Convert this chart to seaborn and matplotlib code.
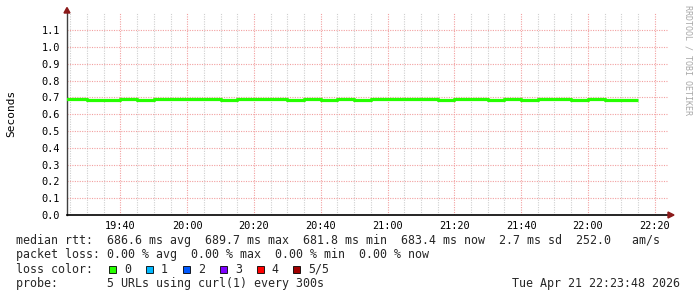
import matplotlib
matplotlib.use("Agg")
import numpy as np
import pandas as pd
import seaborn as sns
import matplotlib.pyplot as plt
import matplotlib.dates as mdates
from matplotlib.patches import Rectangle, Polygon

# ---------------- data ----------------
day = "2026-04-21"
bin_times = ["19:20", "19:25", "19:30", "19:35", "19:40", "19:45", "19:50", "19:55",
             "20:00", "20:05", "20:10", "20:15", "20:20", "20:25", "20:30", "20:35",
             "20:40", "20:45", "20:50", "20:55", "21:00", "21:05", "21:10", "21:15",
             "21:20", "21:25", "21:30", "21:35", "21:40", "21:45", "21:50", "21:55",
             "22:00", "22:05", "22:10", "22:15"]
median_rtt = [0.6895, 0.6897, 0.6830, 0.6825, 0.6890, 0.6835, 0.6893, 0.6890,
              0.6888, 0.6891, 0.6832, 0.6889, 0.6892, 0.6887, 0.6828, 0.6890,
              0.6835, 0.6889, 0.6830, 0.6893, 0.6895, 0.6890, 0.6888, 0.6827,
              0.6891, 0.6889, 0.6833, 0.6890, 0.6829, 0.6892, 0.6888, 0.6831,
              0.6890, 0.6818, 0.6834, 0.6834]
y_ticks = [0.0, 0.1, 0.2, 0.3, 0.4, 0.5, 0.6, 0.7, 0.8, 0.9, 1.0, 1.1]
x_start, x_end = "19:24:00", "22:24:00"

legend_rtt_title = "median rtt:"
legend_rtt_items = ["686.6 ms avg", "689.7 ms max", "681.8 ms min", "683.4 ms now",
                    "2.7 ms sd", "252.0"]
legend_rtt_unit = "am/s"
legend_loss_title = "packet loss:"
legend_loss_items = ["0.00 % avg", "0.00 % max", "0.00 % min", "0.00 % now"]
loss_color_title = "loss color:"
loss_labels = ["0", "1", "2", "3", "4", "5/5"]
loss_colors = ["#26ff00", "#00b8ff", "#0059ff", "#7e00ff", "#ff0000", "#a00000"]
probe_title = "probe:"
probe_text = "5 URLs using curl(1) every 300s"
stamp_text = "Tue Apr 21 22:23:48 2026"
y_label = "Seconds"
watermark = "RRDTOOL / TOBI OETIKER"

df = pd.DataFrame({
    "time": pd.to_datetime([f"{day} {t}" for t in bin_times]),
    "rtt": median_rtt,
})

# ---------------- figure ----------------
sns.set_style("white")
plt.rcParams["font.family"] = ["DejaVu Sans Mono"]

W, H = 697, 297
fig = plt.figure(figsize=(W / 100, H / 100), dpi=100)


def fx(x):
    return x / W


def fy(y):
    return 1 - y / H


L, R, T, B = 67, 668, 13.3, 215
ax = fig.add_axes([fx(L), fy(B), (R - L) / W, (B - T) / H])

sns.lineplot(data=df, x="time", y="rtt", ax=ax, color="#26ff00", linewidth=2.3,
             drawstyle="steps-post", solid_capstyle="butt", zorder=5)

ax.set_xlim(pd.Timestamp(f"{day} {x_start}"), pd.Timestamp(f"{day} {x_end}"))
ax.set_ylim(0, 1.2)
ax.set_yticks(y_ticks)
ax.set_yticklabels([f"{v:.1f}" for v in y_ticks])
ax.xaxis.set_major_locator(mdates.MinuteLocator(byminute=[0, 20, 40]))
ax.xaxis.set_minor_locator(mdates.MinuteLocator(byminute=range(0, 60, 5)))
ax.xaxis.set_major_formatter(mdates.DateFormatter("%H:%M"))
ax.set_xlabel("")
ax.set_ylabel("")

pink = "#f2a0a0"
gray = "#cfcfcf"
dots = (0, (1, 1.2))
ax.yaxis.grid(True, which="major", color=pink, linestyle=dots, linewidth=0.8)
ax.xaxis.grid(True, which="major", color=pink, linestyle=dots, linewidth=0.8)
ax.xaxis.grid(True, which="minor", color=gray, linestyle=dots, linewidth=0.8)
ax.set_axisbelow(True)

for s in ["top", "right"]:
    ax.spines[s].set_visible(False)
ax.spines["left"].set_color("#404040")
ax.spines["left"].set_linewidth(1.0)
ax.spines["bottom"].set_color("#000000")
ax.spines["bottom"].set_linewidth(1.2)

ax.tick_params(axis="y", which="major", length=2.5, width=0.8, color="#404040",
               pad=2.5, labelsize=7.4, labelcolor="#000000")
ax.tick_params(axis="x", which="major", length=2, width=0.8, color="#404040",
               pad=2.6, labelsize=7.4, labelcolor="#000000")
ax.tick_params(axis="x", which="minor", length=1.5, width=0.6, color="#808080")

# axis arrows (dark red)
arrow_c = "#8b1a1a"
fig.patches.append(Polygon([(fx(64), fy(13)), (fx(70), fy(13)), (fx(67), fy(7.5))],
                           closed=True, transform=fig.transFigure, color=arrow_c))
fig.patches.append(Polygon([(fx(668), fy(212)), (fx(668), fy(218)), (fx(674), fy(215))],
                           closed=True, transform=fig.transFigure, color=arrow_c))

# y label and watermark
fig.text(fx(11), fy(113.7), y_label, rotation=90, ha="center", va="center",
         fontsize=8, color="#000000")
fig.text(fx(688), fy(60), watermark, rotation=270, ha="center", va="center",
         fontsize=6, color="#a8a8a8")

# ---------------- legend text ----------------
fs = 8.42
base = [243.7, 258.2, 272.6, 286.9]
x0 = 16.5

line1 = legend_rtt_title + "  " + "  ".join(legend_rtt_items) + "   " + legend_rtt_unit
line2 = legend_loss_title + " " + "  ".join(legend_loss_items)
fig.text(fx(x0), fy(base[0]), line1, fontsize=fs, va="baseline")
fig.text(fx(x0), fy(base[1]), line2, fontsize=fs, va="baseline")

fig.text(fx(x0), fy(base[2]), loss_color_title, fontsize=fs, va="baseline")
box_x = [109, 145.7, 183, 220, 256.7, 293.3]
for x, lab, c in zip(box_x, loss_labels, loss_colors):
    fig.patches.append(Rectangle((fx(x), fy(272.5)), 6.8 / W, 6.8 / H,
                                 transform=fig.transFigure, facecolor=c,
                                 edgecolor="#000000", linewidth=0.6))
    fig.text(fx(x + 15), fy(base[2]), lab, fontsize=fs, va="baseline")

fig.text(fx(x0), fy(base[3]), probe_title.ljust(13) + probe_text, fontsize=fs,
         va="baseline")
fig.text(fx(680), fy(base[3]), stamp_text, fontsize=fs, va="baseline", ha="right")

fig.savefig("out.png", dpi=100, facecolor="white")
